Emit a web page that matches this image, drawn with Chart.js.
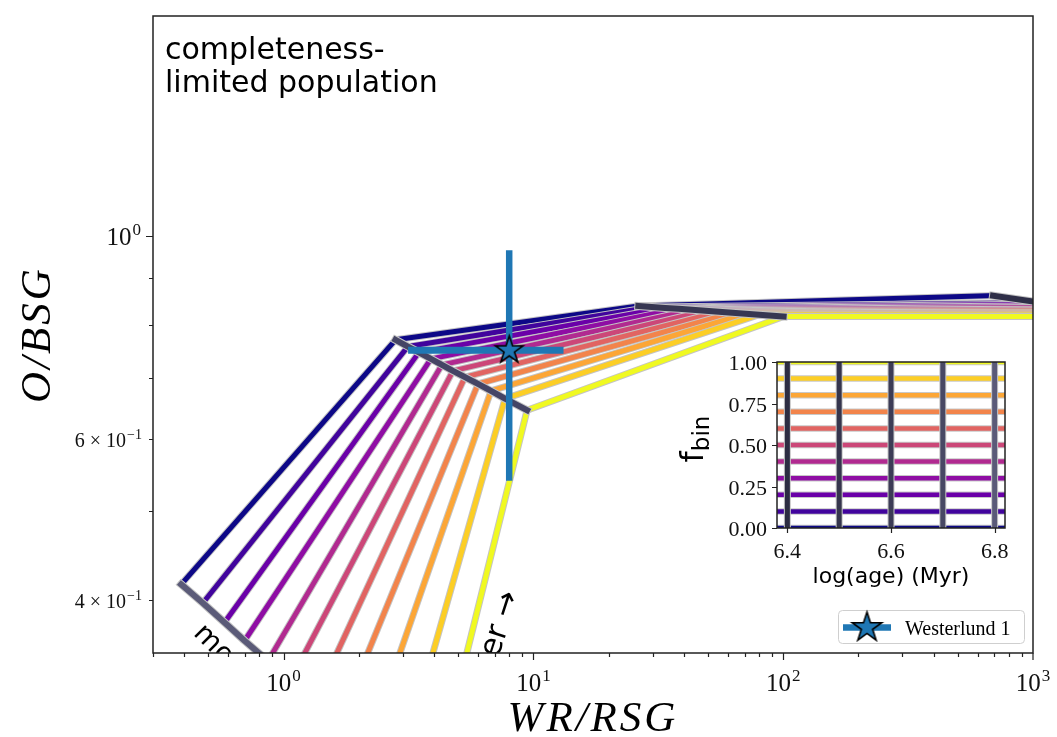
<!DOCTYPE html>
<html>
<head>
<meta charset="utf-8">
<script src="https://cdn.jsdelivr.net/npm/chart.js@4.4.1/dist/chart.umd.min.js"></script>
<style>
  html, body { margin: 0; padding: 0; background: #fff; }
  #wrap { position: relative; width: 1057px; height: 737px; overflow: hidden; }
  #main { position: absolute; left: 0; top: 0; }
  #inset { position: absolute; left: 660px; top: 340px; }
</style>
</head>
<body>
<div id="wrap">
  <canvas id="main" width="1057" height="737"></canvas>
  <canvas id="inset" width="370" height="260"></canvas>
</div>
<script>
// ---- model grid: binary fraction x log(age) ----
const fbin = [0.0, 0.1, 0.2, 0.3, 0.4, 0.5, 0.6, 0.7, 0.8, 0.9, 1.0];
const logAge = [6.4, 6.5, 6.6, 6.7, 6.8];

// WR/RSG and O/BSG of the completeness-limited population, one entry per fbin.
// At log(age) = 6.8 no red supergiants are left, so WR/RSG diverges and that
// age has no point on the main panel.
const wrRsgAge64 = [0.389, 0.475, 0.580, 0.698, 0.866, 1.067, 1.337, 1.698, 2.229, 3.024, 4.105];
const oBsgAge64  = [0.416, 0.397, 0.378, 0.361, 0.343, 0.327, 0.311, 0.297, 0.283, 0.270, 0.258];
const wrRsgAge65 = [2.805, 3.143, 3.480, 3.888, 4.303, 4.763, 5.321, 6.000, 6.766, 7.700, 9.434];
const oBsgAge65  = [0.770, 0.757, 0.746, 0.734, 0.723, 0.712, 0.701, 0.689, 0.677, 0.664, 0.645];
const wrRsgAge66 = [26.30, 29.77, 33.69, 38.13, 43.15, 48.83, 55.27, 62.55, 70.80, 80.12, 100.4];
const oBsgAge66  = [0.8385, 0.8364, 0.8343, 0.8325, 0.8304, 0.8283, 0.8262, 0.8242, 0.8222, 0.8203, 0.8167];
const wrRsgAge67 = [691.7, 1078, 1250, 1450, 1700, 2000, 2400, 2900, 3500, 4200, 5000];
const oBsgAge67  = [0.8605, 0.8456, 0.8425, 0.8391, 0.8360, 0.8326, 0.8292, 0.8259, 0.8225, 0.8191, 0.8166];

const gridWrRsg = [wrRsgAge64, wrRsgAge65, wrRsgAge66, wrRsgAge67];
const gridOBsg  = [oBsgAge64, oBsgAge65, oBsgAge66, oBsgAge67];

// Westerlund 1: ratio and its error range
const wd1WrRsg = [8.0];
const wd1OBsg = [0.75];
const wd1WrRsgRange = [3.15, 13.2];
const wd1OBsgRange = [0.54, 0.965];

// axis ticks
const xMajorTicks = [1, 10, 100, 1000];
const xMajorExp = ['0', '1', '2', '3'];
const yMajorTicks = [1];
const yMajorExp = ['0'];
const yMinorLabelled = [0.4, 0.6];
const yMinorMantissa = ['4', '6'];
const insetYTicks = [0, 0.25, 0.5, 0.75, 1.0];
const insetYLabels = ['0.00', '0.25', '0.50', '0.75', '1.00'];
const insetXTicks = [6.4, 6.6, 6.8];
const insetXLabels = ['6.4', '6.6', '6.8'];
const insetAgeLimits = [6.38, 6.82];

// ---- styles ----
const plasma = ['#0d0887', '#41049d', '#6a00a8', '#8f0da4', '#b12a90', '#cc4778',
                '#e16462', '#f2844b', '#fca636', '#fcce25', '#f0f921'];
const ageGreyMain = ['#5b5b78', '#454565', '#373752', '#2f2f48'];
const ageGreyInset = ['#2c2c42', '#35354d', '#3c3c56', '#484864', '#5a5a78'];
const wdBlue = '#1f77b4';
const SERIF = '"Liberation Serif", "DejaVu Serif", serif';
const SANS = '"DejaVu Sans", sans-serif';

function makeStar(r, lw) {
  const s = Math.ceil(2 * r + 2 * lw + 2);
  const c = document.createElement('canvas');
  c.width = s; c.height = s;
  const g = c.getContext('2d');
  g.beginPath();
  for (let k = 0; k < 10; k++) {
    const rr = k % 2 === 0 ? r : r * 0.381966;
    const a = -Math.PI / 2 + k * Math.PI / 5;
    const px = s / 2 + rr * Math.cos(a), py = s / 2 + rr * Math.sin(a);
    if (k === 0) g.moveTo(px, py); else g.lineTo(px, py);
  }
  g.closePath();
  g.fillStyle = wdBlue; g.fill();
  g.lineWidth = lw; g.strokeStyle = '#000'; g.lineJoin = 'miter'; g.stroke();
  return c;
}
const starMain = makeStar(14.5, 1.6);
const starLegend = makeStar(15.5, 1.6);

// light outline drawn beneath each line, like a stroke path effect
const outlinePlugin = {
  id: 'outline',
  beforeDatasetDraw(chart, args) {
    const ds = chart.data.datasets[args.index];
    if (!ds.outlineWidth) return;
    const pts = args.meta.data;
    const a = chart.chartArea, ctx = chart.ctx;
    ctx.save();
    ctx.beginPath();
    ctx.rect(a.left, a.top, a.right - a.left, a.bottom - a.top);
    ctx.clip();
    ctx.beginPath();
    let started = false;
    for (const p of pts) {
      if (p.skip) { started = false; continue; }
      if (!started) { ctx.moveTo(p.x, p.y); started = true; } else ctx.lineTo(p.x, p.y);
    }
    ctx.lineWidth = ds.borderWidth + 2 * ds.outlineWidth;
    ctx.strokeStyle = ds.outlineColor;
    ctx.lineCap = ds.borderCapStyle || 'butt';
    ctx.lineJoin = 'round';
    ctx.stroke();
    ctx.restore();
  }
};

function drawPow(ctx, mant, exp, x, y, align, baseSize, supSize) {
  ctx.font = baseSize + 'px ' + SERIF;
  const wb = ctx.measureText(mant).width;
  ctx.font = supSize + 'px ' + SERIF;
  const ws = ctx.measureText(exp).width;
  const total = wb + 1 + ws;
  const x0 = align === 'right' ? x - total : align === 'center' ? x - total / 2 : x;
  ctx.textAlign = 'left';
  ctx.textBaseline = 'alphabetic';
  ctx.font = baseSize + 'px ' + SERIF;
  ctx.fillText(mant, x0, y);
  ctx.font = supSize + 'px ' + SERIF;
  ctx.fillText(exp, x0 + wb + 1, y - baseSize * 0.42);
}

// ---- main panel datasets ----
const mainDatasets = [];
fbin.forEach((f, i) => {
  mainDatasets.push({
    label: 'fbin ' + f,
    data: gridWrRsg.map((col, j) => ({ x: col[i], y: gridOBsg[j][i] })),
    borderColor: plasma[i], borderWidth: 5, borderCapStyle: 'square', borderJoinStyle: 'round',
    outlineWidth: 1, outlineColor: '#c4c4c4',
    pointRadius: 0, clip: 0, order: 100 - i
  });
});
gridWrRsg.forEach((col, j) => {
  mainDatasets.push({
    label: 'log age ' + logAge[j],
    data: fbin.map((f, i) => ({ x: col[i], y: gridOBsg[j][i] })),
    borderColor: ageGreyMain[j], borderWidth: 6, borderCapStyle: 'square', borderJoinStyle: 'round',
    outlineWidth: 1, outlineColor: '#c4c4c4',
    pointRadius: 0, clip: 0, order: 50 - j
  });
});
mainDatasets.push({
  label: 'Westerlund 1 x-range',
  data: wd1WrRsgRange.map(v => ({ x: v, y: wd1OBsg[0] })),
  borderColor: wdBlue, borderWidth: 7, borderCapStyle: 'butt', pointRadius: 0, clip: 0, order: 3
});
mainDatasets.push({
  label: 'Westerlund 1 y-range',
  data: wd1OBsgRange.map(v => ({ x: wd1WrRsg[0], y: v })),
  borderColor: wdBlue, borderWidth: 6.5, borderCapStyle: 'butt', pointRadius: 0, clip: 0, order: 2
});
mainDatasets.push({
  label: 'Westerlund 1',
  data: wd1WrRsg.map((v, k) => ({ x: v, y: wd1OBsg[k] })),
  showLine: false, pointStyle: starMain, pointRadius: 15, clip: false, order: 1
});

const mainDecor = {
  id: 'mainDecor',
  afterDraw(chart) {
    const ctx = chart.ctx, a = chart.chartArea, xs = chart.scales.x, ys = chart.scales.y;
    ctx.save();

    // rotated hints inside the axes
    ctx.save();
    ctx.beginPath();
    ctx.rect(a.left, a.top, a.right - a.left, a.bottom - a.top);
    ctx.clip();
    ctx.fillStyle = '#000';
    ctx.textBaseline = 'alphabetic';
    ctx.font = '28px ' + SANS;
    ctx.save();
    ctx.translate(xs.getPixelForValue(0.4315), ys.getPixelForValue(0.3669));
    ctx.rotate(Math.PI / 4);
    ctx.textAlign = 'left';
    ctx.fillText('more binaries', 0, 0);
    ctx.restore();
    ctx.font = '31px ' + SANS;
    ctx.save();
    ctx.translate(xs.getPixelForValue(8.75), ys.getPixelForValue(0.4055));
    ctx.rotate(-72 * Math.PI / 180);
    ctx.textAlign = 'right';
    ctx.fillText('older \u2192', 0, 0);
    ctx.restore();
    ctx.restore();

    // panel caption
    ctx.fillStyle = '#000';
    ctx.font = '30px ' + SANS;
    ctx.textAlign = 'left';
    ctx.fillText('completeness-', a.left + 12, a.top + 43);
    ctx.fillText('limited population', a.left + 12, a.top + 76);

    // frame
    ctx.strokeStyle = '#222';
    ctx.lineWidth = 1.5;
    ctx.strokeRect(a.left, a.top, a.right - a.left, a.bottom - a.top);

    // x ticks
    ctx.lineWidth = 1.2;
    ctx.beginPath();
    for (let e = -1; e <= 2; e++) {
      for (let m = 1; m <= 9; m++) {
        const v = m * Math.pow(10, e);
        if (v < xs.min * 0.999 || v > xs.max * 1.001) continue;
        const px = Math.round(xs.getPixelForValue(v)) + 0.5;
        const len = m === 1 ? 7 : 4;
        ctx.moveTo(px, a.bottom); ctx.lineTo(px, a.bottom + len);
      }
    }
    const xTop = xs.getPixelForValue(1000);
    ctx.moveTo(xTop, a.bottom); ctx.lineTo(xTop, a.bottom + 7);
    // y ticks
    for (const v of [0.4, 0.5, 0.6, 0.7, 0.8, 0.9, 1.0]) {
      const py = Math.round(ys.getPixelForValue(v)) + 0.5;
      const len = v === 1.0 ? 7 : 4;
      ctx.moveTo(a.left, py); ctx.lineTo(a.left - len, py);
    }
    ctx.stroke();

    ctx.fillStyle = '#111';
    xMajorTicks.forEach((v, k) => {
      drawPow(ctx, '10', xMajorExp[k], xs.getPixelForValue(v), a.bottom + 38, 'center', 25, 17);
    });
    yMajorTicks.forEach((v, k) => {
      drawPow(ctx, '10', yMajorExp[k], a.left - 12, ys.getPixelForValue(v) + 9, 'right', 25, 17);
    });
    yMinorLabelled.forEach((v, k) => {
      drawPow(ctx, yMinorMantissa[k] + ' \u00d7 10', '\u22121', a.left - 11, ys.getPixelForValue(v) + 8, 'right', 20, 14);
    });

    // axis titles
    ctx.fillStyle = '#000';
    ctx.font = 'italic 43px ' + SERIF;
    if ('letterSpacing' in ctx) ctx.letterSpacing = '3px';
    ctx.textAlign = 'center';
    ctx.fillText('WR/RSG', (a.left + a.right) / 2, 731);
    ctx.save();
    ctx.translate(50, (a.top + a.bottom) / 2);
    ctx.rotate(-Math.PI / 2);
    ctx.fillText('O/BSG', 0, 0);
    ctx.restore();
    if ('letterSpacing' in ctx) ctx.letterSpacing = '0px';

    // legend
    const bw = 186, bh = 33;
    const bx = a.right - 9 - bw, by = a.bottom - 10 - bh;
    ctx.beginPath();
    ctx.roundRect(bx + 0.5, by + 0.5, bw, bh, 4);
    ctx.fillStyle = 'rgba(255,255,255,0.8)';
    ctx.fill();
    ctx.strokeStyle = '#cfcfcf';
    ctx.lineWidth = 1;
    ctx.stroke();
    const ly = by + bh / 2 + 1;
    ctx.beginPath();
    ctx.moveTo(bx + 5, ly); ctx.lineTo(bx + 53, ly);
    ctx.strokeStyle = wdBlue; ctx.lineWidth = 6.5; ctx.stroke();
    ctx.drawImage(starLegend, bx + 29 - starLegend.width / 2, ly - starLegend.height / 2);
    ctx.fillStyle = '#000';
    ctx.font = '20px ' + SERIF;
    ctx.textAlign = 'left';
    ctx.fillText('Westerlund 1', bx + 67, ly + 7);

    ctx.restore();
  }
};

new Chart(document.getElementById('main'), {
  type: 'line',
  data: { datasets: mainDatasets },
  options: {
    responsive: false, animation: false, devicePixelRatio: 1, events: [],
    layout: { padding: { left: 153, right: 24, top: 10, bottom: 84 } },
    scales: {
      x: { type: 'logarithmic', min: 0.3, max: 1000, display: false, bounds: 'data' },
      y: { type: 'logarithmic', min: 0.35, max: 1.74, display: false, bounds: 'data' }
    },
    elements: { line: { tension: 0 } },
    plugins: { legend: { display: false }, tooltip: { enabled: false } }
  },
  plugins: [outlinePlugin, mainDecor]
});

// ---- inset: which fbin / age each colour and grey stands for ----
const insetDatasets = [];
fbin.forEach((f, i) => {
  insetDatasets.push({
    label: 'fbin ' + f,
    data: insetAgeLimits.map(t => ({ x: t, y: f })),
    borderColor: plasma[i], borderWidth: 4.5, borderCapStyle: 'butt',
    outlineWidth: 1, outlineColor: '#c8c8c8',
    pointRadius: 0, clip: 0, order: 100 - i
  });
});
logAge.forEach((t, j) => {
  insetDatasets.push({
    label: 'log age ' + t,
    data: [0, 1].map(f => ({ x: t, y: f })),
    borderColor: ageGreyInset[j], borderWidth: 5, borderCapStyle: 'butt',
    outlineWidth: 1, outlineColor: '#c8c8c8',
    pointRadius: 0, clip: 0, order: 50 - j
  });
});

const insetDecor = {
  id: 'insetDecor',
  beforeDatasetsDraw(chart) {
    const ctx = chart.ctx, a = chart.chartArea;
    ctx.save();
    ctx.fillStyle = '#fff';
    ctx.fillRect(a.left, a.top, a.right - a.left, a.bottom - a.top);
    ctx.restore();
  },
  afterDraw(chart) {
    const ctx = chart.ctx, a = chart.chartArea, xs = chart.scales.x, ys = chart.scales.y;
    ctx.save();
    ctx.strokeStyle = '#222';
    ctx.lineWidth = 1.5;
    ctx.strokeRect(a.left, a.top, a.right - a.left, a.bottom - a.top);
    ctx.lineWidth = 1.2;
    ctx.beginPath();
    insetYTicks.forEach(v => {
      const py = Math.round(ys.getPixelForValue(v)) + 0.5;
      ctx.moveTo(a.left, py); ctx.lineTo(a.left - 5, py);
    });
    insetXTicks.forEach(v => {
      const px = Math.round(xs.getPixelForValue(v)) + 0.5;
      ctx.moveTo(px, a.bottom); ctx.lineTo(px, a.bottom + 5);
    });
    ctx.stroke();

    ctx.fillStyle = '#111';
    ctx.font = '22px ' + SERIF;
    ctx.textBaseline = 'alphabetic';
    ctx.textAlign = 'right';
    insetYTicks.forEach((v, k) => ctx.fillText(insetYLabels[k], a.left - 10, ys.getPixelForValue(v) + 8));
    ctx.textAlign = 'center';
    insetXTicks.forEach((v, k) => ctx.fillText(insetXLabels[k], xs.getPixelForValue(v), a.bottom + 30));

    ctx.fillStyle = '#000';
    ctx.font = '22px ' + SANS;
    ctx.fillText('log(age) (Myr)', (a.left + a.right) / 2, a.bottom + 55);

    // f_bin, rotated
    ctx.save();
    ctx.translate(a.left - 74, (a.top + a.bottom) / 2 - 6);
    ctx.rotate(-Math.PI / 2);
    ctx.font = '32px ' + SANS;
    const wf = ctx.measureText('f').width;
    ctx.font = '23px ' + SANS;
    const wsub = ctx.measureText('bin').width;
    const x0 = -(wf + wsub) / 2;
    ctx.textAlign = 'left';
    ctx.font = '32px ' + SANS;
    ctx.fillText('f', x0, 0);
    ctx.font = '23px ' + SANS;
    ctx.fillText('bin', x0 + wf, 6);
    ctx.restore();
    ctx.restore();
  }
};

new Chart(document.getElementById('inset'), {
  type: 'line',
  data: { datasets: insetDatasets },
  options: {
    responsive: false, animation: false, devicePixelRatio: 1, events: [],
    layout: { padding: { left: 117, right: 25, top: 22, bottom: 72 } },
    scales: {
      x: { type: 'linear', min: insetAgeLimits[0], max: insetAgeLimits[1], display: false },
      y: { type: 'linear', min: 0, max: 1, display: false }
    },
    elements: { line: { tension: 0 } },
    plugins: { legend: { display: false }, tooltip: { enabled: false } }
  },
  plugins: [outlinePlugin, insetDecor]
});
</script>
</body>
</html>
